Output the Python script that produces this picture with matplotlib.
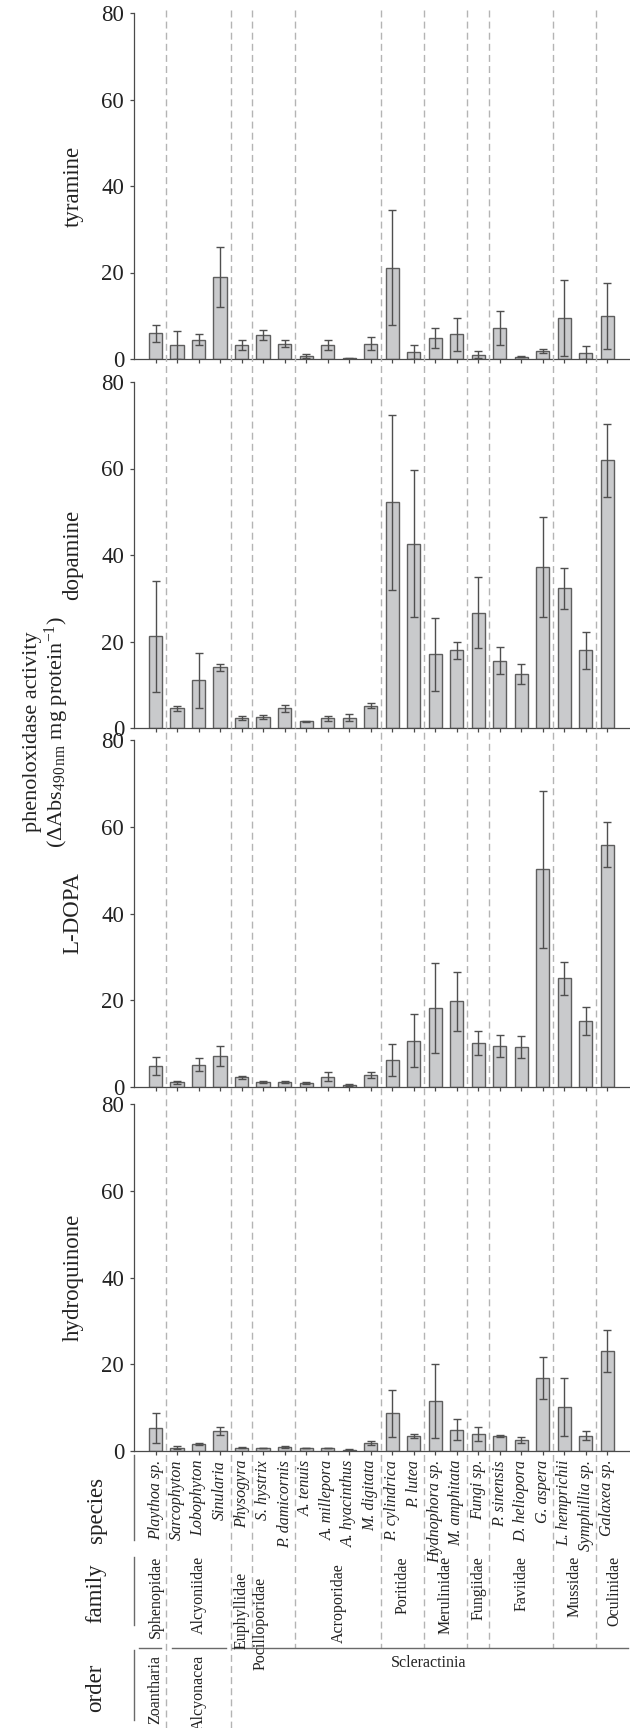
import matplotlib
matplotlib.use('Agg')
import matplotlib.pyplot as plt
from matplotlib.lines import Line2D
from matplotlib.transforms import blended_transform_factory
import numpy as np

# ---- data ----
species = ['Playthoa sp.', 'Sarcophyton', 'Lobophyton', 'Sinularia', 'Physogyra',
           'S. hystrix', 'P. damicornis', 'A. tenuis', 'A. millepora', 'A. hyacinthus',
           'M. digitata', 'P. cylindrica', 'P. lutea', 'Hydnophora sp.', 'M. amphitata',
           'Fungi sp.', 'P. sinensis', 'D. heliopora', 'G. aspera', 'L. hemprichii',
           'Symphillia sp.', 'Galaxea sp.']
families = ['Sphenopidae', 'Alcyoniidae', 'Euphyllidae', 'Pocilloporidae', 'Acroporidae',
            'Poritidae', 'Merulinidae', 'Fungiidae', 'Faviidae', 'Mussidae', 'Oculinidae']
family_sizes = [1, 3, 1, 2, 4, 2, 2, 1, 3, 2, 1]
orders = ['Zoantharia', 'Alcyonacea', 'Scleractinia']
order_sizes = [1, 3, 18]

substrates = ['tyramine', 'dopamine', 'L-DOPA', 'hydroquinone']

tyramine = [5.9, 3.3, 4.5, 18.9, 3.2, 5.5, 3.5, 0.7, 3.3, 0.2, 3.5,
            21.1, 1.7, 4.85, 5.7, 1.0, 7.2, 0.55, 1.8, 9.4, 1.5, 9.9]
tyramine_err = [2.0, 3.2, 1.3, 6.9, 1.2, 1.15, 0.8, 0.45, 1.2, 0.1, 1.5,
                13.3, 1.6, 2.4, 3.8, 0.8, 4.0, 0.2, 0.5, 8.8, 1.4, 7.7]

dopamine = [21.2, 4.55, 11.0, 14.0, 2.3, 2.5, 4.55, 1.6, 2.2, 2.4, 5.2,
            52.2, 42.6, 17.0, 17.95, 26.7, 15.6, 12.5, 37.3, 32.3, 18.0, 61.9]
dopamine_err = [12.9, 0.6, 6.4, 0.9, 0.4, 0.4, 0.85, 0.1, 0.5, 0.8, 0.6,
                20.2, 17.0, 8.4, 1.9, 8.2, 3.2, 2.4, 11.6, 4.7, 4.3, 8.4]

ldopa = [4.77, 1.08, 5.08, 7.15, 2.2, 1.15, 1.15, 0.85, 2.4, 0.46, 2.77,
         6.3, 10.7, 18.3, 19.8, 10.15, 9.5, 9.3, 50.15, 25.1, 15.2, 55.9]
ldopa_err = [2.1, 0.4, 1.5, 2.2, 0.3, 0.2, 0.15, 0.2, 1.0, 0.15, 0.7,
             3.7, 6.1, 10.4, 6.8, 2.8, 2.5, 2.5, 18.0, 3.8, 3.3, 5.2]

hydroquinone = [5.3, 0.7, 1.6, 4.6, 0.77, 0.7, 0.9, 0.7, 0.7, 0.3, 1.77,
                8.7, 3.4, 11.5, 4.9, 3.9, 3.5, 2.5, 16.9, 10.2, 3.5, 23.1]
hydroquinone_err = [3.4, 0.35, 0.25, 0.95, 0.15, 0.05, 0.15, 0.1, 0.1, 0.05, 0.45,
                    5.4, 0.5, 8.6, 2.4, 1.6, 0.25, 0.65, 4.8, 6.7, 1.0, 4.8]

means = [tyramine, dopamine, ldopa, hydroquinone]
errs = [tyramine_err, dopamine_err, ldopa_err, hydroquinone_err]

# ---- style ----
plt.rcParams['font.family'] = ['Liberation Serif', 'DejaVu Serif']
plt.rcParams['mathtext.fontset'] = 'custom'
plt.rcParams['mathtext.rm'] = 'Liberation Serif'
plt.rcParams['mathtext.it'] = 'Liberation Serif:italic'

W, H = 630, 1728
TXT = '#222222'
AX = '#4a4a4a'
BAR = '#c9cacc'
DASH = '#b4b4b4'

def fy(p):
    return 1 - p / H

fig = plt.figure(figsize=(W / 100, H / 100), dpi=100)

left_px = 133.5
panels = [(13, 359), (382, 728), (740, 1087), (1104, 1451)]
x = np.arange(len(species))
axes = []
for k, (top, bot) in enumerate(panels):
    ax = fig.add_axes([left_px / W, fy(bot), 1 - left_px / W, (bot - top) / H])
    ax.set_facecolor('none')
    ax.bar(x, means[k], width=0.62, color=BAR, edgecolor='#5e5e5e', linewidth=1.0, zorder=2)
    ax.errorbar(x, means[k], yerr=errs[k], fmt='none', ecolor='#4f4f4f',
                elinewidth=1.0, capsize=3.2, capthick=1.0, zorder=3)
    ax.set_xlim(-1.03, 22.06)
    ax.set_ylim(0, 80)
    ax.set_yticks([0, 20, 40, 60, 80])
    ax.set_xticks(x)
    ax.set_xticklabels([])
    ax.tick_params(axis='both', direction='out', length=3.2, width=0.9, color=AX,
                   labelsize=16.5, labelcolor=TXT, pad=3.5)
    for s in ['top', 'right']:
        ax.spines[s].set_visible(False)
    for s in ['left', 'bottom']:
        ax.spines[s].set_color(AX)
        ax.spines[s].set_linewidth(0.9)
    fig.text(73 / W, fy((top + bot) / 2), substrates[k], rotation=90,
             ha='center', va='center', fontsize=16.5, color=TXT)
    axes.append(ax)

# shared y label
fig.text(47 / W, fy(732), 'phenoloxidase activity\n(ΔAbs$_{490\\,\\mathrm{nm}}$ mg protein$^{-1}$)',
         rotation=90, ha='center', va='center', fontsize=16, color=TXT,
         linespacing=1.0, multialignment='center')

trans = blended_transform_factory(axes[-1].transData, fig.transFigure)

# group boundaries
fam_edges = np.cumsum(family_sizes)[:-1] - 0.5
ord_edges = np.cumsum(order_sizes)[:-1] - 0.5
for b in fam_edges:
    y_end = 1728 if b in ord_edges else 1648
    fig.add_artist(Line2D([b, b], [fy(10), fy(y_end)], transform=trans, color=DASH,
                          linewidth=1.0, dashes=(5, 3)))

# species row
for i, s in enumerate(species):
    fig.text(i, fy(1460), s, transform=trans, rotation=90, ha='center', va='top',
             fontsize=11.5, style='italic', color=TXT)

# family row
fam_nudge = {'Euphyllidae': (0, 16), 'Pocilloporidae': (-0.6, 21), 'Acroporidae': (0, 7),
             'Oculinidae': (0.35, 0)}
start = 0
for name, n in zip(families, family_sizes):
    cx = start + (n - 1) / 2
    dx, dy = fam_nudge.get(name, (0, 0))
    fig.text(cx + dx, fy(1556 + dy), name, transform=trans, rotation=90,
             ha='center', va='top', fontsize=11.5, color=TXT)
    start += n

# order row
start = 0
for j, (name, n) in enumerate(zip(orders, order_sizes)):
    lo, hi = start - 0.5, start + n - 0.5
    if j == len(orders) - 1:
        seg = (lo + 0.05, 21.95)
        fig.text((lo + hi) / 2 + 0.2, fy(1663), name, transform=trans, ha='center',
                 va='center', fontsize=11.5, color=TXT)
    else:
        seg = (lo + 0.28 if j > 0 else -0.77, hi - 0.25)
        fig.text(start + (n - 1) / 2, fy(1655), name, transform=trans, rotation=90,
                 ha='center', va='top', fontsize=11.5, color=TXT)
    fig.add_artist(Line2D(seg, [fy(1648), fy(1648)], transform=trans, color='#6a6a6a',
                          linewidth=1.0))
    start += n

# row titles with their bars
for name, yc, (y0, y1) in [('species', 1510, (1455, 1540)),
                           ('family', 1593, (1557, 1625)),
                           ('order', 1688, (1650, 1720))]:
    fig.text(96 / W, fy(yc), name, rotation=90, ha='center', va='center',
             fontsize=16.5, color=TXT)
    fig.add_artist(Line2D([134 / W, 134 / W], [fy(y0), fy(y1)], color='#6a6a6a',
                          linewidth=1.0))

fig.savefig('out.png', dpi=100)
